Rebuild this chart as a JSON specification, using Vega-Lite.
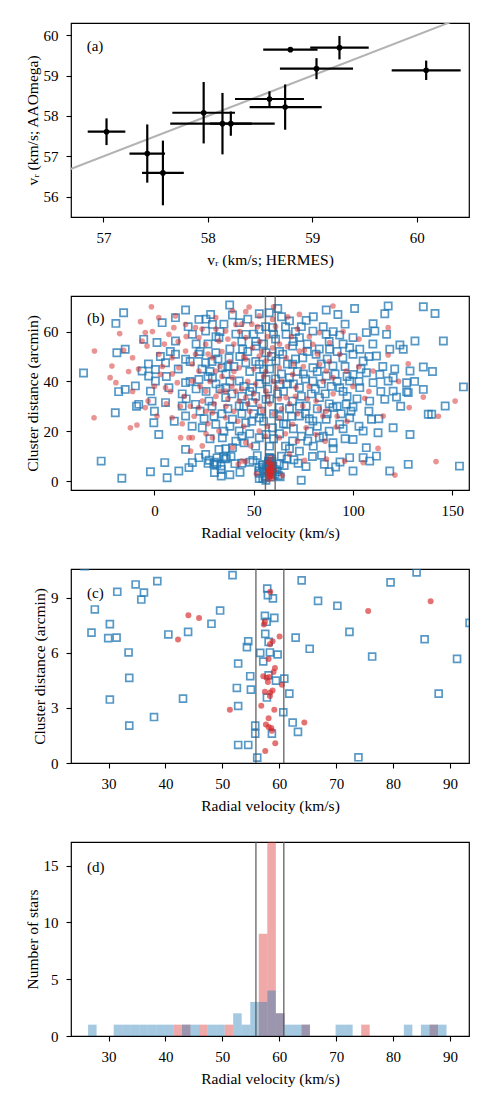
{
"$schema": "https://vega.github.io/schema/vega-lite/v6.json",
"autosize": {"type": "pad"},
"padding": {"left": 24, "top": 22, "right": 22, "bottom": 5},
"background": "white",
"bounds": "flush",
"spacing": 79,
"config": {
  "font": "Liberation Serif",
  "view": {"stroke": "black", "strokeWidth": 1.2},
  "axis": {"domain": false, "grid": false, "tickColor": "black", "tickSize": 5, "tickWidth": 1.1, "labelColor": "black", "titleColor": "black", "labelFont": "Liberation Serif", "titleFont": "Liberation Serif", "labelFontSize": 15, "titleFontSize": 15.5, "titleFontWeight": "normal"},
  "axisX": {"labelPadding": 8, "titlePadding": 7},
  "axisY": {"labelPadding": 8, "titlePadding": 3}
},
"datasets": {
  "pa": [
    {"x":57.03,"y":57.61,"xlo":56.85,"xhi":57.21,"ylo":57.28,"yhi":57.94},
    {"x":57.42,"y":57.07,"xlo":57.25,"xhi":57.59,"ylo":56.35,"yhi":57.79},
    {"x":57.57,"y":56.59,"xlo":57.37,"xhi":57.77,"ylo":55.79,"yhi":57.39},
    {"x":57.96,"y":58.08,"xlo":57.66,"xhi":58.26,"ylo":57.32,"yhi":58.84},
    {"x":58.14,"y":57.81,"xlo":57.64,"xhi":58.64,"ylo":57.05,"yhi":58.57},
    {"x":58.22,"y":57.81,"xlo":58.02,"xhi":58.42,"ylo":57.51,"yhi":58.11},
    {"x":58.59,"y":58.42,"xlo":58.26,"xhi":58.92,"ylo":58.23,"yhi":58.61},
    {"x":58.74,"y":58.22,"xlo":58.40,"xhi":59.09,"ylo":57.66,"yhi":58.78},
    {"x":58.79,"y":59.64,"xlo":58.53,"xhi":59.05,"ylo":59.61,"yhi":59.67},
    {"x":59.26,"y":59.69,"xlo":58.98,"xhi":59.54,"ylo":59.40,"yhi":59.98},
    {"x":59.04,"y":59.17,"xlo":58.69,"xhi":59.39,"ylo":58.91,"yhi":59.43},
    {"x":60.09,"y":59.13,"xlo":59.76,"xhi":60.42,"ylo":58.89,"yhi":59.37}
  ],
  "lines": [{"v":55.9},{"v":60.8}],
  "stars": [
    {"rv":51.79,"d":10.22,"t":"b"},{"rv":38.57,"d":9.89,"t":"b"},{"rv":34.76,"d":9.71,"t":"b"},{"rv":31.53,"d":9.31,"t":"b"},{"rv":36.22,"d":9.27,"t":"b"},{"rv":35.75,"d":8.89,"t":"b"},{"rv":27.59,"d":8.35,"t":"b"},{"rv":30.23,"d":7.55,"t":"b"},{"rv":27.0,"d":7.09,"t":"b"},{"rv":29.94,"d":6.79,"t":"b"},{"rv":31.41,"d":6.82,"t":"b"},{"rv":40.51,"d":6.99,"t":"b"},{"rv":43.98,"d":7.13,"t":"b"},{"rv":48.09,"d":7.57,"t":"b"},{"rv":49.61,"d":8.29,"t":"b"},{"rv":33.52,"d":6.01,"t":"b"},{"rv":33.64,"d":4.63,"t":"b"},{"rv":30.23,"d":3.45,"t":"b"},{"rv":43.09,"d":3.50,"t":"b"},{"rv":37.99,"d":2.50,"t":"b"},{"rv":33.64,"d":2.03,"t":"b"},{"rv":54.55,"d":6.62,"t":"b"},{"rv":54.32,"d":6.30,"t":"b"},{"rv":52.78,"d":5.41,"t":"b"},{"rv":54.9,"d":4.72,"t":"b"},{"rv":52.55,"d":4.08,"t":"b"},{"rv":55.02,"d":3.99,"t":"b"},{"rv":52.78,"d":3.10,"t":"b"},{"rv":55.78,"d":2.03,"t":"b"},{"rv":55.78,"d":1.60,"t":"b"},{"rv":52.78,"d":0.98,"t":"b"},{"rv":54.55,"d":0.98,"t":"b"},{"rv":56.13,"d":0.29,"t":"b"},{"rv":57.89,"d":9.49,"t":"b"},{"rv":58.0,"d":9.13,"t":"b"},{"rv":58.89,"d":8.95,"t":"b"},{"rv":57.48,"d":8.0,"t":"b"},{"rv":59.13,"d":7.89,"t":"b"},{"rv":57.78,"d":7.68,"t":"b"},{"rv":57.54,"d":7.02,"t":"b"},{"rv":58.13,"d":6.59,"t":"b"},{"rv":56.66,"d":5.99,"t":"b"},{"rv":58.36,"d":6.01,"t":"b"},{"rv":59.71,"d":5.90,"t":"b"},{"rv":57.19,"d":5.52,"t":"b"},{"rv":58.13,"d":4.77,"t":"b"},{"rv":60.89,"d":4.59,"t":"b"},{"rv":59.42,"d":4.48,"t":"b"},{"rv":61.77,"d":3.77,"t":"b"},{"rv":57.83,"d":3.56,"t":"b"},{"rv":60.71,"d":2.76,"t":"b"},{"rv":62.36,"d":2.20,"t":"b"},{"rv":63.29,"d":1.69,"t":"b"},{"rv":58.71,"d":1.60,"t":"b"},{"rv":63.94,"d":9.93,"t":"b"},{"rv":62.88,"d":6.82,"t":"b"},{"rv":65.35,"d":6.21,"t":"b"},{"rv":66.82,"d":8.82,"t":"b"},{"rv":70.22,"d":8.55,"t":"b"},{"rv":72.34,"d":7.13,"t":"b"},{"rv":76.33,"d":5.79,"t":"b"},{"rv":79.56,"d":9.82,"t":"b"},{"rv":84.14,"d":10.36,"t":"b"},{"rv":85.55,"d":6.73,"t":"b"},{"rv":91.25,"d":5.66,"t":"b"},{"rv":88.02,"d":3.77,"t":"b"},{"rv":73.92,"d":0.31,"t":"b"},{"rv":93.45,"d":7.62,"t":"b"},
    {"rv":-15.5,"d":67.6,"t":"b"},{"rv":-19.4,"d":63.3,"t":"b"},{"rv":15.7,"d":68.7,"t":"b"},{"rv":37.9,"d":70.7,"t":"b"},{"rv":28.3,"d":66.9,"t":"b"},{"rv":29.2,"d":62.9,"t":"b"},{"rv":42.7,"d":63.6,"t":"b"},{"rv":52.8,"d":67.2,"t":"b"},{"rv":57.8,"d":67.6,"t":"b"},{"rv":62.1,"d":69.3,"t":"b"},{"rv":68.0,"d":64.3,"t":"b"},{"rv":76.4,"d":64.5,"t":"b"},{"rv":86.5,"d":68.7,"t":"b"},{"rv":92.4,"d":66.9,"t":"b"},{"rv":100.8,"d":69.3,"t":"b"},{"rv":116.0,"d":67.2,"t":"b"},{"rv":117.7,"d":70.3,"t":"b"},{"rv":135.4,"d":70.0,"t":"b"},{"rv":141.3,"d":67.3,"t":"b"},{"rv":110.1,"d":63.2,"t":"b"},{"rv":111.0,"d":60.2,"t":"b"},{"rv":39.3,"d":66.7,"t":"b"},{"rv":22.4,"d":64.9,"t":"b"},{"rv":3.9,"d":63.6,"t":"b"},{"rv":10.6,"d":65.6,"t":"b"},
    {"rv":-5.4,"d":56.9,"t":"b"},{"rv":1.3,"d":55.6,"t":"b"},{"rv":10.6,"d":56.2,"t":"b"},{"rv":-14.7,"d":52.9,"t":"b"},{"rv":-18.9,"d":51.5,"t":"b"},{"rv":19.1,"d":58.9,"t":"b"},{"rv":25.8,"d":60.2,"t":"b"},{"rv":32.5,"d":57.6,"t":"b"},{"rv":46.0,"d":58.9,"t":"b"},{"rv":52.8,"d":60.9,"t":"b"},{"rv":59.5,"d":61.6,"t":"b"},{"rv":66.3,"d":58.9,"t":"b"},{"rv":73.0,"d":57.6,"t":"b"},{"rv":79.8,"d":60.2,"t":"b"},{"rv":86.5,"d":58.9,"t":"b"},{"rv":93.3,"d":58.6,"t":"b"},{"rv":100.0,"d":57.6,"t":"b"},{"rv":106.7,"d":59.6,"t":"b"},{"rv":116.9,"d":58.9,"t":"b"},{"rv":123.6,"d":54.6,"t":"b"},{"rv":145.5,"d":56.2,"t":"b"},{"rv":131.2,"d":56.2,"t":"b"},{"rv":98.3,"d":53.5,"t":"b"},{"rv":103.4,"d":52.9,"t":"b"},
    {"rv":-6.2,"d":44.2,"t":"b"},{"rv":0.5,"d":44.8,"t":"b"},{"rv":-2.9,"d":42.2,"t":"b"},{"rv":5.6,"d":47.5,"t":"b"},{"rv":10.6,"d":50.9,"t":"b"},{"rv":15.7,"d":48.9,"t":"b"},{"rv":22.4,"d":50.9,"t":"b"},{"rv":30.9,"d":51.5,"t":"b"},{"rv":37.6,"d":49.5,"t":"b"},{"rv":44.4,"d":52.9,"t":"b"},{"rv":51.1,"d":54.2,"t":"b"},{"rv":56.2,"d":51.5,"t":"b"},{"rv":64.6,"d":50.9,"t":"b"},{"rv":69.6,"d":54.2,"t":"b"},{"rv":74.7,"d":49.5,"t":"b"},{"rv":81.4,"d":50.9,"t":"b"},{"rv":88.2,"d":52.9,"t":"b"},{"rv":94.9,"d":49.5,"t":"b"},{"rv":100.0,"d":50.9,"t":"b"},{"rv":105.1,"d":48.2,"t":"b"},{"rv":111.8,"d":50.2,"t":"b"},{"rv":118.5,"d":52.9,"t":"b"},{"rv":125.3,"d":52.9,"t":"b"},{"rv":135.4,"d":45.8,"t":"b"},{"rv":128.7,"d":44.2,"t":"b"},{"rv":-35.7,"d":43.4,"t":"b"},{"rv":25.8,"d":47.5,"t":"b"},{"rv":34.2,"d":45.5,"t":"b"},{"rv":46.0,"d":47.5,"t":"b"},{"rv":52.8,"d":46.9,"t":"b"},{"rv":61.2,"d":48.2,"t":"b"},{"rv":69.6,"d":46.9,"t":"b"},{"rv":79.8,"d":45.5,"t":"b"},{"rv":89.9,"d":46.2,"t":"b"},{"rv":100.0,"d":42.8,"t":"b"},{"rv":106.7,"d":43.5,"t":"b"},{"rv":113.5,"d":42.8,"t":"b"},{"rv":120.2,"d":41.5,"t":"b"},
    {"rv":-18.0,"d":35.9,"t":"b"},{"rv":-14.7,"d":36.8,"t":"b"},{"rv":-9.6,"d":38.2,"t":"b"},{"rv":-2.0,"d":36.1,"t":"b"},{"rv":0.5,"d":40.2,"t":"b"},{"rv":7.3,"d":37.5,"t":"b"},{"rv":15.7,"d":39.5,"t":"b"},{"rv":22.4,"d":40.8,"t":"b"},{"rv":29.2,"d":41.5,"t":"b"},{"rv":35.9,"d":37.5,"t":"b"},{"rv":42.7,"d":40.2,"t":"b"},{"rv":49.4,"d":37.5,"t":"b"},{"rv":56.2,"d":40.8,"t":"b"},{"rv":62.9,"d":38.8,"t":"b"},{"rv":68.0,"d":41.5,"t":"b"},{"rv":73.0,"d":37.5,"t":"b"},{"rv":79.8,"d":40.2,"t":"b"},{"rv":86.5,"d":42.2,"t":"b"},{"rv":93.3,"d":37.5,"t":"b"},{"rv":98.3,"d":40.2,"t":"b"},{"rv":103.4,"d":37.5,"t":"b"},{"rv":110.1,"d":39.5,"t":"b"},{"rv":117.7,"d":40.2,"t":"b"},{"rv":120.2,"d":36.1,"t":"b"},{"rv":127.0,"d":39.5,"t":"b"},{"rv":135.4,"d":36.8,"t":"b"},{"rv":155.6,"d":37.8,"t":"b"},{"rv":127.0,"d":35.9,"t":"b"},
    {"rv":-19.7,"d":27.4,"t":"b"},{"rv":-7.9,"d":30.8,"t":"b"},{"rv":-1.2,"d":32.1,"t":"b"},{"rv":5.6,"d":31.5,"t":"b"},{"rv":14.0,"d":30.1,"t":"b"},{"rv":20.7,"d":30.8,"t":"b"},{"rv":27.5,"d":32.1,"t":"b"},{"rv":35.9,"d":33.5,"t":"b"},{"rv":42.7,"d":30.1,"t":"b"},{"rv":49.4,"d":31.5,"t":"b"},{"rv":56.2,"d":32.8,"t":"b"},{"rv":62.9,"d":29.5,"t":"b"},{"rv":69.6,"d":32.1,"t":"b"},{"rv":76.4,"d":30.1,"t":"b"},{"rv":83.1,"d":33.5,"t":"b"},{"rv":89.9,"d":29.5,"t":"b"},{"rv":96.6,"d":30.8,"t":"b"},{"rv":100.0,"d":29.7,"t":"b"},{"rv":108.4,"d":32.1,"t":"b"},{"rv":116.0,"d":32.8,"t":"b"},{"rv":121.9,"d":33.7,"t":"b"},{"rv":127.8,"d":35.5,"t":"b"},{"rv":137.9,"d":26.8,"t":"b"},{"rv":139.6,"d":26.8,"t":"b"},{"rv":146.4,"d":30.1,"t":"b"},
    {"rv":-0.3,"d":23.4,"t":"b"},{"rv":2.2,"d":18.7,"t":"b"},{"rv":15.7,"d":26.1,"t":"b"},{"rv":24.1,"d":21.4,"t":"b"},{"rv":30.9,"d":22.8,"t":"b"},{"rv":39.3,"d":24.8,"t":"b"},{"rv":46.0,"d":23.4,"t":"b"},{"rv":52.8,"d":25.4,"t":"b"},{"rv":59.5,"d":21.4,"t":"b"},{"rv":66.3,"d":22.8,"t":"b"},{"rv":73.0,"d":26.1,"t":"b"},{"rv":79.8,"d":24.1,"t":"b"},{"rv":86.5,"d":24.8,"t":"b"},{"rv":93.3,"d":22.8,"t":"b"},{"rv":98.3,"d":25.4,"t":"b"},{"rv":105.1,"d":20.1,"t":"b"},{"rv":112.6,"d":19.4,"t":"b"},{"rv":120.2,"d":21.4,"t":"b"},{"rv":109.3,"d":24.8,"t":"b"},{"rv":128.7,"d":18.7,"t":"b"},{"rv":34.2,"d":17.4,"t":"b"},{"rv":42.7,"d":20.1,"t":"b"},{"rv":56.2,"d":18.7,"t":"b"},
    {"rv":15.7,"d":12.7,"t":"b"},{"rv":25.8,"d":10.7,"t":"b"},{"rv":32.5,"d":12.7,"t":"b"},{"rv":39.3,"d":13.4,"t":"b"},{"rv":45.2,"d":15.4,"t":"b"},{"rv":52.8,"d":17.4,"t":"b"},{"rv":69.6,"d":16.1,"t":"b"},{"rv":77.2,"d":16.1,"t":"b"},{"rv":83.1,"d":17.4,"t":"b"},{"rv":89.9,"d":15.4,"t":"b"},{"rv":100.0,"d":16.7,"t":"b"},{"rv":106.7,"d":13.4,"t":"b"},{"rv":73.0,"d":12.0,"t":"b"},
    {"rv":-26.8,"d":8.0,"t":"b"},{"rv":-16.4,"d":1.1,"t":"b"},{"rv":-2.0,"d":3.7,"t":"b"},{"rv":5.2,"d":7.4,"t":"b"},{"rv":6.4,"d":1.3,"t":"b"},{"rv":12.3,"d":4.0,"t":"b"},{"rv":17.4,"d":5.4,"t":"b"},{"rv":22.4,"d":9.4,"t":"b"},{"rv":19.1,"d":7.4,"t":"b"},{"rv":98.3,"d":9.4,"t":"b"},{"rv":100.0,"d":4.0,"t":"b"},{"rv":105.1,"d":9.4,"t":"b"},{"rv":108.4,"d":8.0,"t":"b"},{"rv":111.8,"d":10.0,"t":"b"},{"rv":118.5,"d":4.0,"t":"b"},{"rv":127.8,"d":6.7,"t":"b"},{"rv":153.6,"d":6.0,"t":"b"},
    {"rv":27,"d":55,"t":"b"},{"rv":33,"d":60,"t":"b"},{"rv":38,"d":53,"t":"b"},{"rv":44,"d":56,"t":"b"},{"rv":50,"d":59,"t":"b"},{"rv":55,"d":55,"t":"b"},{"rv":61,"d":57,"t":"b"},{"rv":66,"d":62,"t":"b"},{"rv":71,"d":60,"t":"b"},{"rv":77,"d":55,"t":"b"},{"rv":83,"d":53,"t":"b"},{"rv":88,"d":56,"t":"b"},{"rv":95,"d":55,"t":"b"},
    {"rv":24,"d":45,"t":"b"},{"rv":29,"d":48,"t":"b"},{"rv":36,"d":43,"t":"b"},{"rv":40,"d":46,"t":"b"},{"rv":48,"d":44,"t":"b"},{"rv":53,"d":42,"t":"b"},{"rv":58,"d":45,"t":"b"},{"rv":64,"d":43,"t":"b"},{"rv":72,"d":44,"t":"b"},{"rv":76,"d":41,"t":"b"},{"rv":84,"d":47,"t":"b"},{"rv":91,"d":43,"t":"b"},{"rv":96,"d":46,"t":"b"},
    {"rv":26,"d":36,"t":"b"},{"rv":31,"d":39,"t":"b"},{"rv":39,"d":35,"t":"b"},{"rv":45,"d":38,"t":"b"},{"rv":51,"d":34,"t":"b"},{"rv":57,"d":37,"t":"b"},{"rv":62,"d":35,"t":"b"},{"rv":67,"d":39,"t":"b"},{"rv":74,"d":34,"t":"b"},{"rv":81,"d":37,"t":"b"},{"rv":86,"d":35,"t":"b"},{"rv":92,"d":40,"t":"b"},{"rv":97,"d":34,"t":"b"},
    {"rv":23,"d":28,"t":"b"},{"rv":30,"d":26,"t":"b"},{"rv":37,"d":29,"t":"b"},{"rv":44,"d":27,"t":"b"},{"rv":49,"d":24,"t":"b"},{"rv":54,"d":28,"t":"b"},{"rv":63,"d":26,"t":"b"},{"rv":68,"d":29,"t":"b"},{"rv":76,"d":27,"t":"b"},{"rv":82,"d":29,"t":"b"},{"rv":88,"d":31,"t":"b"},{"rv":94,"d":27,"t":"b"},
    {"rv":35,"d":20,"t":"b"},{"rv":48,"d":19,"t":"b"},{"rv":63,"d":19,"t":"b"},{"rv":70,"d":21,"t":"b"},{"rv":78,"d":20,"t":"b"},{"rv":85,"d":18,"t":"b"},{"rv":95,"d":21,"t":"b"},{"rv":41,"d":16,"t":"b"},{"rv":58,"d":14,"t":"b"},{"rv":66,"d":14,"t":"b"},{"rv":90,"d":13,"t":"b"},
    {"rv":12,"d":45,"t":"b"},{"rv":8,"d":52,"t":"b"},{"rv":18,"d":40,"t":"b"},{"rv":14,"d":35,"t":"b"},{"rv":3,"d":50,"t":"b"},{"rv":104,"d":45,"t":"b"},{"rv":110,"d":55,"t":"b"},{"rv":115,"d":46,"t":"b"},{"rv":108,"d":28,"t":"b"},{"rv":102,"d":33,"t":"b"},{"rv":113,"d":25,"t":"b"},
    {"rv":17,"d":62,"t":"b"},{"rv":21,"d":55,"t":"b"},{"rv":26,"d":65,"t":"b"},{"rv":31,"d":58,"t":"b"},{"rv":35,"d":63,"t":"b"},{"rv":41,"d":59,"t":"b"},{"rv":47,"d":65,"t":"b"},{"rv":51,"d":56,"t":"b"},{"rv":56,"d":62,"t":"b"},{"rv":60,"d":59,"t":"b"},{"rv":64,"d":66,"t":"b"},{"rv":70,"d":56,"t":"b"},{"rv":74,"d":62,"t":"b"},{"rv":80,"d":66,"t":"b"},{"rv":85,"d":62,"t":"b"},{"rv":90,"d":60,"t":"b"},{"rv":96,"d":63,"t":"b"},
    {"rv":18,"d":48,"t":"b"},{"rv":23,"d":52,"t":"b"},{"rv":28,"d":44,"t":"b"},{"rv":32,"d":49,"t":"b"},{"rv":37,"d":46,"t":"b"},{"rv":43,"d":50,"t":"b"},{"rv":47,"d":52,"t":"b"},{"rv":51,"d":48,"t":"b"},{"rv":55,"d":45,"t":"b"},{"rv":59,"d":50,"t":"b"},{"rv":63,"d":52,"t":"b"},{"rv":67,"d":47,"t":"b"},{"rv":71,"d":49,"t":"b"},{"rv":77,"d":52,"t":"b"},{"rv":82,"d":44,"t":"b"},{"rv":87,"d":49,"t":"b"},{"rv":92,"d":52,"t":"b"},{"rv":97,"d":42,"t":"b"},
    {"rv":16,"d":33,"t":"b"},{"rv":21,"d":37,"t":"b"},{"rv":27,"d":42,"t":"b"},{"rv":33,"d":37,"t":"b"},{"rv":38,"d":40,"t":"b"},{"rv":44,"d":34,"t":"b"},{"rv":48,"d":36,"t":"b"},{"rv":53,"d":39,"t":"b"},{"rv":58,"d":33,"t":"b"},{"rv":61,"d":41,"t":"b"},{"rv":65,"d":36,"t":"b"},{"rv":70,"d":39,"t":"b"},{"rv":75,"d":43,"t":"b"},{"rv":79,"d":35,"t":"b"},{"rv":84,"d":39,"t":"b"},{"rv":89,"d":38,"t":"b"},{"rv":95,"d":36,"t":"b"},
    {"rv":19,"d":22,"t":"b"},{"rv":25,"d":25,"t":"b"},{"rv":29,"d":30,"t":"b"},{"rv":34,"d":27,"t":"b"},{"rv":38,"d":22,"t":"b"},{"rv":45,"d":30,"t":"b"},{"rv":50,"d":27,"t":"b"},{"rv":55,"d":24,"t":"b"},{"rv":60,"d":27,"t":"b"},{"rv":65,"d":23,"t":"b"},{"rv":69,"d":26,"t":"b"},{"rv":73,"d":30,"t":"b"},{"rv":78,"d":25,"t":"b"},{"rv":82,"d":22,"t":"b"},{"rv":87,"d":27,"t":"b"},{"rv":92,"d":30,"t":"b"},{"rv":99,"d":28,"t":"b"},
    {"rv":28,"d":17,"t":"b"},{"rv":36,"d":13,"t":"b"},{"rv":44,"d":18,"t":"b"},{"rv":51,"d":14,"t":"b"},{"rv":60,"d":17,"t":"b"},{"rv":68,"d":13,"t":"b"},{"rv":74,"d":18,"t":"b"},{"rv":80,"d":14,"t":"b"},{"rv":88,"d":20,"t":"b"},{"rv":96,"d":17,"t":"b"},{"rv":103,"d":22,"t":"b"},
    {"rv":6,"d":42,"t":"b"},{"rv":-3,"d":47,"t":"b"},{"rv":-9,"d":30,"t":"b"},{"rv":0,"d":28,"t":"b"},{"rv":10,"d":24,"t":"b"},{"rv":103,"d":40,"t":"b"},{"rv":108,"d":50,"t":"b"},{"rv":114,"d":36,"t":"b"},{"rv":121,"d":45,"t":"b"},{"rv":124,"d":30,"t":"b"},{"rv":131,"d":40,"t":"b"},{"rv":140,"d":44,"t":"b"},
    {"rv":58.42,"d":9.31,"t":"r"},{"rv":86.61,"d":8.80,"t":"r"},{"rv":75.63,"d":8.27,"t":"r"},{"rv":44.03,"d":8.04,"t":"r"},{"rv":45.91,"d":7.89,"t":"r"},{"rv":42.21,"d":6.71,"t":"r"},{"rv":57.48,"d":7.68,"t":"r"},{"rv":57.30,"d":7.53,"t":"r"},{"rv":60.06,"d":6.88,"t":"r"},{"rv":58.83,"d":6.62,"t":"r"},{"rv":58.36,"d":6.46,"t":"r"},{"rv":58.13,"d":5.66,"t":"r"},{"rv":59.24,"d":5.17,"t":"r"},{"rv":59.0,"d":4.95,"t":"r"},{"rv":57.19,"d":4.72,"t":"r"},{"rv":57.78,"d":4.63,"t":"r"},{"rv":58.24,"d":4.68,"t":"r"},{"rv":58.0,"d":4.41,"t":"r"},{"rv":60.47,"d":4.26,"t":"r"},{"rv":57.48,"d":3.87,"t":"r"},{"rv":58.42,"d":3.83,"t":"r"},{"rv":58.83,"d":3.94,"t":"r"},{"rv":58.36,"d":3.65,"t":"r"},{"rv":56.84,"d":3.12,"t":"r"},{"rv":59.13,"d":2.90,"t":"r"},{"rv":51.32,"d":2.90,"t":"r"},{"rv":58.13,"d":2.43,"t":"r"},{"rv":57.66,"d":2.09,"t":"r"},{"rv":58.13,"d":1.96,"t":"r"},{"rv":58.6,"d":1.91,"t":"r"},{"rv":58.71,"d":1.76,"t":"r"},{"rv":64.41,"d":2.20,"t":"r"},{"rv":59.3,"d":1.07,"t":"r"},{"rv":57.54,"d":0.65,"t":"r"},
    {"rv":-1.5,"d":70.0,"t":"r"},{"rv":47.7,"d":69.9,"t":"r"},{"rv":89.9,"d":70.3,"t":"r"},{"rv":-17.5,"d":59.2,"t":"r"},{"rv":-30.2,"d":52.2,"t":"r"},{"rv":-21.4,"d":46.2,"t":"r"},{"rv":-22.3,"d":41.5,"t":"r"},{"rv":-19.4,"d":39.5,"t":"r"},{"rv":-15.5,"d":52.5,"t":"r"},{"rv":-11.0,"d":49.5,"t":"r"},{"rv":-30.4,"d":25.4,"t":"r"},{"rv":-12.1,"d":21.4,"t":"r"},{"rv":-8.8,"d":22.5,"t":"r"},{"rv":-4.6,"d":29.5,"t":"r"},{"rv":-3.2,"d":32.1,"t":"r"},{"rv":1.3,"d":26.1,"t":"r"},{"rv":3.0,"d":42.8,"t":"r"},{"rv":5.6,"d":37.5,"t":"r"},{"rv":8.9,"d":25.4,"t":"r"},{"rv":11.5,"d":39.5,"t":"r"},{"rv":13.2,"d":17.4,"t":"r"},{"rv":17.4,"d":17.4,"t":"r"},{"rv":19.1,"d":17.4,"t":"r"},{"rv":18.2,"d":12.0,"t":"r"},{"rv":24.1,"d":14.1,"t":"r"},{"rv":29.2,"d":17.4,"t":"r"},{"rv":39.3,"d":13.4,"t":"r"},{"rv":46.0,"d":15.4,"t":"r"},{"rv":48.6,"d":14.1,"t":"r"},{"rv":62.9,"d":17.4,"t":"r"},{"rv":68.0,"d":10.9,"t":"r"},{"rv":81.4,"d":18.7,"t":"r"},{"rv":112.6,"d":13.1,"t":"r"},{"rv":121.1,"d":2.4,"t":"r"},{"rv":141.8,"d":7.8,"t":"r"},{"rv":105.1,"d":7.4,"t":"r"},{"rv":95.8,"d":8.0,"t":"r"},{"rv":151.4,"d":32.1,"t":"r"},{"rv":128.3,"d":29.5,"t":"r"},{"rv":135.4,"d":33.7,"t":"r"},{"rv":127.8,"d":47.1,"t":"r"},{"rv":117.7,"d":61.6,"t":"r"},{"rv":117.7,"d":50.6,"t":"r"},{"rv":102.9,"d":45.9,"t":"r"},{"rv":110.1,"d":44.2,"t":"r"},{"rv":105.9,"d":33.2,"t":"r"},{"rv":115.2,"d":26.1,"t":"r"},{"rv":91.6,"d":21.7,"t":"r"},{"rv":84.8,"d":26.1,"t":"r"},{"rv":83.1,"d":59.6,"t":"r"},{"rv":88.2,"d":55.6,"t":"r"},{"rv":73.0,"d":66.9,"t":"r"},{"rv":67.1,"d":65.9,"t":"r"},{"rv":59.5,"d":64.9,"t":"r"},{"rv":52.8,"d":66.3,"t":"r"},{"rv":39.3,"d":68.3,"t":"r"},{"rv":30.9,"d":65.6,"t":"r"},{"rv":20.7,"d":61.6,"t":"r"},{"rv":10.6,"d":66.3,"t":"r"},{"rv":2.2,"d":65.6,"t":"r"},{"rv":-4.6,"d":59.6,"t":"r"},{"rv":-6.2,"d":56.2,"t":"r"},{"rv":-3.7,"d":54.2,"t":"r"},{"rv":7.3,"d":58.9,"t":"r"},{"rv":9.8,"d":61.6,"t":"r"},{"rv":15.7,"d":62.9,"t":"r"},{"rv":22.4,"d":57.6,"t":"r"},{"rv":25.8,"d":54.9,"t":"r"},{"rv":29.2,"d":49.5,"t":"r"},{"rv":32.5,"d":56.2,"t":"r"},{"rv":35.9,"d":60.2,"t":"r"},{"rv":41.0,"d":62.9,"t":"r"},{"rv":46.0,"d":57.6,"t":"r"},{"rv":49.4,"d":53.5,"t":"r"},{"rv":52.8,"d":50.2,"t":"r"},{"rv":56.2,"d":48.2,"t":"r"},{"rv":59.5,"d":53.5,"t":"r"},{"rv":62.9,"d":45.5,"t":"r"},{"rv":66.3,"d":49.5,"t":"r"},{"rv":69.6,"d":42.8,"t":"r"},{"rv":73.0,"d":52.2,"t":"r"},{"rv":75.5,"d":52.5,"t":"r"},{"rv":79.8,"d":54.9,"t":"r"},{"rv":83.1,"d":46.9,"t":"r"},{"rv":86.5,"d":44.2,"t":"r"},{"rv":89.9,"d":41.5,"t":"r"},{"rv":93.3,"d":50.9,"t":"r"},{"rv":96.6,"d":44.2,"t":"r"},{"rv":42.7,"d":45.5,"t":"r"},{"rv":39.3,"d":41.5,"t":"r"},{"rv":35.9,"d":36.1,"t":"r"},{"rv":41.0,"d":36.1,"t":"r"},{"rv":46.0,"d":33.5,"t":"r"},{"rv":51.1,"d":32.1,"t":"r"},{"rv":42.7,"d":32.1,"t":"r"},{"rv":56.2,"d":36.1,"t":"r"},{"rv":61.2,"d":37.5,"t":"r"},{"rv":66.3,"d":33.5,"t":"r"},{"rv":71.3,"d":37.5,"t":"r"},{"rv":74.7,"d":30.1,"t":"r"},{"rv":81.4,"d":32.1,"t":"r"},{"rv":86.5,"d":28.1,"t":"r"},{"rv":22.4,"d":44.2,"t":"r"},{"rv":19.1,"d":40.2,"t":"r"},{"rv":25.8,"d":36.1,"t":"r"},{"rv":30.9,"d":44.2,"t":"r"},{"rv":12.3,"d":45.5,"t":"r"},{"rv":15.7,"d":52.2,"t":"r"},{"rv":8.9,"d":49.5,"t":"r"},{"rv":2.2,"d":50.9,"t":"r"},{"rv":20.7,"d":50.9,"t":"r"},{"rv":24.1,"d":32.1,"t":"r"},{"rv":22.4,"d":29.5,"t":"r"},{"rv":29.2,"d":27.4,"t":"r"},{"rv":35.9,"d":25.4,"t":"r"},{"rv":54.5,"d":28.1,"t":"r"},{"rv":62.9,"d":25.4,"t":"r"},{"rv":69.6,"d":22.8,"t":"r"},{"rv":76.4,"d":21.4,"t":"r"},{"rv":32.5,"d":20.1,"t":"r"},{"rv":52.8,"d":20.1,"t":"r"},
    {"rv":45,"d":50,"t":"r"},{"rv":50,"d":45,"t":"r"},{"rv":38,"d":48,"t":"r"},{"rv":55,"d":42,"t":"r"},{"rv":60,"d":40,"t":"r"},{"rv":47,"d":40,"t":"r"},{"rv":34,"d":52,"t":"r"},{"rv":28,"d":40,"t":"r"},{"rv":40,"d":55,"t":"r"},{"rv":57,"d":58,"t":"r"},{"rv":63,"d":55,"t":"r"},{"rv":69,"d":58,"t":"r"},{"rv":52,"d":62,"t":"r"},{"rv":44,"d":63,"t":"r"},{"rv":36,"d":30,"t":"r"},{"rv":48,"d":28,"t":"r"},{"rv":58,"d":31,"t":"r"},{"rv":64,"d":29,"t":"r"},{"rv":27,"d":23,"t":"r"},{"rv":42,"d":24,"t":"r"},{"rv":57,"d":22,"t":"r"},{"rv":66,"d":19,"t":"r"},{"rv":75,"d":46,"t":"r"},{"rv":78,"d":38,"t":"r"},{"rv":71,"d":34,"t":"r"},{"rv":31,"d":34,"t":"r"},{"rv":20,"d":26,"t":"r"},{"rv":13,"d":30,"t":"r"},{"rv":8,"d":36,"t":"r"},{"rv":5,"d":55,"t":"r"},{"rv":-8,"d":45,"t":"r"},{"rv":-11,"d":36,"t":"r"},{"rv":90,"d":35,"t":"r"},{"rv":97,"d":24,"t":"r"},{"rv":103,"d":57,"t":"r"},{"rv":46,"d":68,"t":"r"},{"rv":60,"d":70,"t":"r"},{"rv":33,"d":46,"t":"r"},{"rv":54,"d":52,"t":"r"},{"rv":39,"d":38,"t":"r"},
    {"rv":12,"d":56,"t":"r"},{"rv":16,"d":58,"t":"r"},{"rv":19,"d":47,"t":"r"},{"rv":24,"d":61,"t":"r"},{"rv":27,"d":51,"t":"r"},{"rv":31,"d":61,"t":"r"},{"rv":34,"d":42,"t":"r"},{"rv":37,"d":57,"t":"r"},{"rv":40,"d":44,"t":"r"},{"rv":43,"d":60,"t":"r"},{"rv":46,"d":49,"t":"r"},{"rv":49,"d":63,"t":"r"},{"rv":51,"d":39,"t":"r"},{"rv":53,"d":56,"t":"r"},{"rv":56,"d":44,"t":"r"},{"rv":58,"d":51,"t":"r"},{"rv":61,"d":62,"t":"r"},{"rv":64,"d":40,"t":"r"},{"rv":67,"d":54,"t":"r"},{"rv":70,"d":47,"t":"r"},{"rv":72,"d":61,"t":"r"},{"rv":78,"d":58,"t":"r"},{"rv":82,"d":51,"t":"r"},{"rv":85,"d":40,"t":"r"},{"rv":88,"d":48,"t":"r"},
    {"rv":15,"d":34,"t":"r"},{"rv":18,"d":30,"t":"r"},{"rv":23,"d":38,"t":"r"},{"rv":26,"d":28,"t":"r"},{"rv":30,"d":31,"t":"r"},{"rv":33,"d":36,"t":"r"},{"rv":37,"d":33,"t":"r"},{"rv":40,"d":28,"t":"r"},{"rv":44,"d":37,"t":"r"},{"rv":47,"d":31,"t":"r"},{"rv":50,"d":35,"t":"r"},{"rv":53,"d":30,"t":"r"},{"rv":57,"d":34,"t":"r"},{"rv":60,"d":27,"t":"r"},{"rv":63,"d":33,"t":"r"},{"rv":68,"d":31,"t":"r"},{"rv":72,"d":27,"t":"r"},{"rv":77,"d":33,"t":"r"},{"rv":83,"d":29,"t":"r"},{"rv":92,"d":26,"t":"r"},
    {"rv":-1,"d":60,"t":"r"},{"rv":-7,"d":64,"t":"r"},{"rv":-13,"d":44,"t":"r"},{"rv":4,"d":46,"t":"r"},{"rv":0,"d":38,"t":"r"},{"rv":9,"d":43,"t":"r"},{"rv":6,"d":31,"t":"r"},{"rv":14,"d":23,"t":"r"},{"rv":26,"d":19,"t":"r"},{"rv":45,"d":22,"t":"r"},{"rv":56,"d":18,"t":"r"},{"rv":72,"d":16,"t":"r"},{"rv":86,"d":16,"t":"r"},{"rv":100,"d":38,"t":"r"},{"rv":95,"d":60,"t":"r"},{"rv":108,"d":36,"t":"r"},{"rv":123,"d":40,"t":"r"},{"rv":143,"d":26,"t":"r"}
  ],
  "hist": [
    {"s":"b","lo":26.4,"hi":27.9,"n":1},
    {"s":"b","lo":30.9,"hi":32.4,"n":1},{"s":"b","lo":32.4,"hi":33.9,"n":1},{"s":"b","lo":33.9,"hi":35.4,"n":1},{"s":"b","lo":35.4,"hi":36.9,"n":1},{"s":"b","lo":36.9,"hi":38.4,"n":1},{"s":"b","lo":38.4,"hi":39.9,"n":1},{"s":"b","lo":39.9,"hi":41.4,"n":1},
    {"s":"r","lo":41.4,"hi":42.9,"n":1},
    {"s":"b","lo":42.9,"hi":44.4,"n":1},{"s":"r","lo":42.9,"hi":44.4,"n":1},
    {"s":"b","lo":44.4,"hi":45.9,"n":1},
    {"s":"r","lo":45.9,"hi":47.4,"n":1},
    {"s":"b","lo":47.4,"hi":48.9,"n":1},{"s":"b","lo":48.9,"hi":50.4,"n":1},
    {"s":"r","lo":50.4,"hi":51.9,"n":1},
    {"s":"b","lo":51.9,"hi":53.4,"n":2},
    {"s":"b","lo":53.4,"hi":54.9,"n":1},
    {"s":"b","lo":54.9,"hi":56.4,"n":3},
    {"s":"b","lo":56.4,"hi":57.9,"n":3},{"s":"r","lo":56.4,"hi":57.9,"n":9},
    {"s":"b","lo":57.9,"hi":59.4,"n":4},{"s":"r","lo":57.9,"hi":59.4,"n":20},
    {"s":"b","lo":59.4,"hi":60.9,"n":2},{"s":"r","lo":59.4,"hi":60.9,"n":2},
    {"s":"b","lo":60.9,"hi":62.4,"n":1},{"s":"b","lo":62.4,"hi":63.9,"n":1},
    {"s":"b","lo":63.9,"hi":65.4,"n":1},{"s":"r","lo":63.9,"hi":65.4,"n":1},
    {"s":"b","lo":69.9,"hi":71.4,"n":1},{"s":"b","lo":71.4,"hi":72.9,"n":1},
    {"s":"r","lo":74.4,"hi":75.9,"n":1},
    {"s":"b","lo":81.9,"hi":83.4,"n":1},
    {"s":"b","lo":84.9,"hi":86.4,"n":1},
    {"s":"b","lo":86.4,"hi":87.9,"n":1},{"s":"r","lo":86.4,"hi":87.9,"n":1},
    {"s":"b","lo":87.9,"hi":89.4,"n":1}
  ]
},
"vconcat": [
  {
    "width": 398, "height": 194,
    "layer": [
      {"data": {"values": [{"v":56.0},{"v":61.0}]}, "mark": {"type": "line", "color": "#b3b3b3", "strokeWidth": 2, "clip": true},
       "encoding": {
         "x": {"field": "v", "type": "quantitative", "title": "vᵣ (km/s; HERMES)", "scale": {"domain": [56.69, 60.5], "nice": false, "zero": false}, "axis": {"values": [57,58,59,60], "format": "d"}},
         "y": {"field": "v", "type": "quantitative", "title": "vᵣ (km/s; AAOmega)", "scale": {"domain": [55.5, 60.3], "nice": false, "zero": false}, "axis": {"values": [56,57,58,59,60], "format": "d"}}
       }},
      {"data": {"name": "pa"}, "mark": {"type": "rule", "color": "black", "strokeWidth": 2.2},
       "encoding": {"x": {"field": "xlo", "type": "quantitative", "title": "vᵣ (km/s; HERMES)"}, "x2": {"field": "xhi"}, "y": {"field": "y", "type": "quantitative", "title": "vᵣ (km/s; AAOmega)"}}},
      {"data": {"name": "pa"}, "mark": {"type": "rule", "color": "black", "strokeWidth": 2.2},
       "encoding": {"x": {"field": "x", "type": "quantitative", "title": "vᵣ (km/s; HERMES)"}, "y": {"field": "ylo", "type": "quantitative", "title": "vᵣ (km/s; AAOmega)"}, "y2": {"field": "yhi"}}},
      {"data": {"name": "pa"}, "mark": {"type": "circle", "color": "black", "size": 32, "opacity": 1},
       "encoding": {"x": {"field": "x", "type": "quantitative", "title": "vᵣ (km/s; HERMES)"}, "y": {"field": "y", "type": "quantitative", "title": "vᵣ (km/s; AAOmega)"}}},
      {"data": {"values": [{"label": "(a)"}]}, "mark": {"type": "text", "align": "left", "baseline": "middle", "fontSize": 15, "font": "Liberation Serif", "color": "black"},
       "encoding": {"x": {"datum": 56.84, "type": "quantitative"}, "y": {"datum": 59.72, "type": "quantitative"}, "text": {"field": "label"}}}
    ]
  },
  {
    "width": 398, "height": 194,
    "data": {"name": "stars"},
    "layer": [
      {"transform": [{"filter": "datum.t === 'b'"}], "mark": {"type": "point", "shape": "square", "filled": false, "color": "#1f77b4", "strokeWidth": 1.7, "size": 52, "opacity": 0.75, "clip": true},
       "encoding": {
         "x": {"field": "rv", "type": "quantitative", "title": "Radial velocity (km/s)", "scale": {"domain": [-42, 158.4], "nice": false, "zero": false}, "axis": {"values": [0,50,100,150]}},
         "y": {"field": "d", "type": "quantitative", "title": "Cluster distance (arcmin)", "scale": {"domain": [-3.6, 74.3], "nice": false, "zero": false}, "axis": {"values": [0,20,40,60]}}
       }},
      {"transform": [{"filter": "datum.t === 'r'"}], "mark": {"type": "circle", "color": "#d62728", "size": 32, "opacity": 0.5, "clip": true},
       "encoding": {"x": {"field": "rv", "type": "quantitative", "title": "Radial velocity (km/s)"}, "y": {"field": "d", "type": "quantitative", "title": "Cluster distance (arcmin)"}}},
      {"data": {"name": "lines"}, "mark": {"type": "rule", "color": "#555555", "strokeWidth": 1.5, "opacity": 0.8},
       "encoding": {"x": {"field": "v", "type": "quantitative", "title": "Radial velocity (km/s)"}}},
      {"data": {"values": [{"label": "(b)"}]}, "mark": {"type": "text", "align": "left", "baseline": "middle", "fontSize": 15, "font": "Liberation Serif", "color": "black"},
       "encoding": {"x": {"datum": -34.0, "type": "quantitative"}, "y": {"datum": 65.6, "type": "quantitative"}, "text": {"field": "label"}}}
    ]
  },
  {
    "width": 398, "height": 194,
    "data": {"name": "stars"},
    "layer": [
      {"transform": [{"filter": "datum.t === 'b'"}], "mark": {"type": "point", "shape": "square", "filled": false, "color": "#1f77b4", "strokeWidth": 1.7, "size": 48, "opacity": 0.75, "clip": true},
       "encoding": {
         "x": {"field": "rv", "type": "quantitative", "title": "Radial velocity (km/s)", "scale": {"domain": [23.4, 93.35], "nice": false, "zero": false}, "axis": {"values": [30,40,50,60,70,80,90]}},
         "y": {"field": "d", "type": "quantitative", "title": "Cluster distance (arcmin)", "scale": {"domain": [0, 10.55], "nice": false, "zero": false}, "axis": {"values": [0,3,6,9]}}
       }},
      {"transform": [{"filter": "datum.t === 'r'"}], "mark": {"type": "circle", "color": "#d62728", "size": 36, "opacity": 0.65, "clip": true},
       "encoding": {"x": {"field": "rv", "type": "quantitative", "title": "Radial velocity (km/s)"}, "y": {"field": "d", "type": "quantitative", "title": "Cluster distance (arcmin)"}}},
      {"data": {"name": "lines"}, "mark": {"type": "rule", "color": "#555555", "strokeWidth": 1.5, "opacity": 0.8},
       "encoding": {"x": {"field": "v", "type": "quantitative", "title": "Radial velocity (km/s)"}}},
      {"data": {"values": [{"label": "(c)"}]}, "mark": {"type": "text", "align": "left", "baseline": "middle", "fontSize": 15, "font": "Liberation Serif", "color": "black"},
       "encoding": {"x": {"datum": 26.23, "type": "quantitative"}, "y": {"datum": 9.22, "type": "quantitative"}, "text": {"field": "label"}}}
    ]
  },
  {
    "width": 398, "height": 194,
    "data": {"name": "hist"},
    "layer": [
      {"transform": [{"filter": "datum.s === 'r'"}], "mark": {"type": "rect", "color": "#d62728", "opacity": 0.4, "clip": true},
       "encoding": {
         "x": {"field": "lo", "type": "quantitative", "title": "Radial velocity (km/s)", "scale": {"domain": [23.4, 93.35], "nice": false, "zero": false}, "axis": {"values": [30,40,50,60,70,80,90]}},
         "x2": {"field": "hi"},
         "y": {"field": "n", "type": "quantitative", "title": "Number of stars", "scale": {"domain": [0, 17.08], "nice": false, "zero": false}, "axis": {"values": [0,5,10,15]}},
         "y2": {"datum": 0}
       }},
      {"transform": [{"filter": "datum.s === 'b'"}], "mark": {"type": "rect", "color": "#1f77b4", "opacity": 0.4, "clip": true},
       "encoding": {"x": {"field": "lo", "type": "quantitative", "title": "Radial velocity (km/s)"}, "x2": {"field": "hi"}, "y": {"field": "n", "type": "quantitative", "title": "Number of stars"}, "y2": {"datum": 0}}},
      {"data": {"name": "lines"}, "mark": {"type": "rule", "color": "#555555", "strokeWidth": 1.5, "opacity": 0.8},
       "encoding": {"x": {"field": "v", "type": "quantitative", "title": "Radial velocity (km/s)"}}},
      {"data": {"values": [{"label": "(d)"}]}, "mark": {"type": "text", "align": "left", "baseline": "middle", "fontSize": 15, "font": "Liberation Serif", "color": "black"},
       "encoding": {"x": {"datum": 26.23, "type": "quantitative"}, "y": {"datum": 14.84, "type": "quantitative"}, "text": {"field": "label"}}}
    ]
  }
]
}
